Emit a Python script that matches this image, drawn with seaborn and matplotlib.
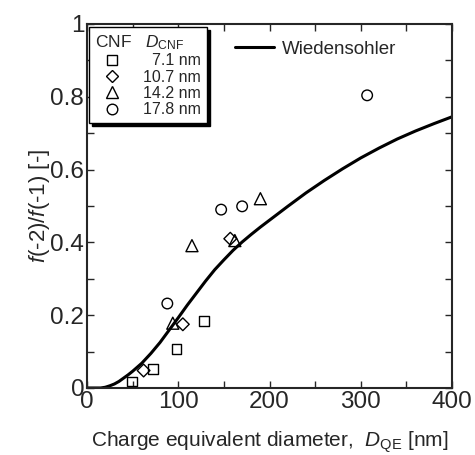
import numpy as np
import pandas as pd
import matplotlib
matplotlib.use("Agg")
import matplotlib.pyplot as plt
import seaborn as sns
from matplotlib.lines import Line2D
from matplotlib.ticker import MultipleLocator

# measured points, one list pair per CNF size
sq_x = [49, 72, 98, 128]
sq_y = [0.018, 0.052, 0.108, 0.183]
di_x = [62, 105, 157]
di_y = [0.048, 0.175, 0.41]
tr_x = [94, 115, 162, 190]
tr_y = [0.178, 0.391, 0.405, 0.52]
ci_x = [88, 147, 170, 307]
ci_y = [0.232, 0.49, 0.499, 0.804]

# Wiedensohler curve
wd_x = [0, 10, 15, 20, 25, 30, 35, 40, 45, 50, 60, 70, 80, 90, 100, 110, 120,
        130, 140, 150, 160, 170, 180, 190, 200, 220, 240, 260, 280, 300, 320,
        340, 360, 380, 400]
wd_y = [0.0, 0.0, 0.0, 0.002, 0.006, 0.011, 0.018, 0.027, 0.036, 0.046, 0.068,
        0.095, 0.125, 0.159, 0.193, 0.228, 0.261, 0.294, 0.325, 0.352, 0.378,
        0.401, 0.422, 0.442, 0.461, 0.499, 0.536, 0.570, 0.602, 0.632, 0.659,
        0.684, 0.706, 0.726, 0.745]

labels = ["  7.1 nm", "10.7 nm", "14.2 nm", "17.8 nm"]

sns.set_style("ticks")
plt.rcParams["font.family"] = ["Liberation Sans", "DejaVu Sans"]
plt.rcParams["mathtext.fontset"] = "custom"
plt.rcParams["mathtext.rm"] = "Liberation Sans"
plt.rcParams["mathtext.it"] = "Liberation Sans:italic"

fig = plt.figure(figsize=(4.75, 4.55), dpi=100)
ax = fig.add_axes([0.1832, 0.1473, 0.7684, 0.8000])

sns.lineplot(x=wd_x, y=wd_y, ax=ax, color="black", linewidth=2.2)

groups = [(sq_x, sq_y, "s", 50), (di_x, di_y, "D", 42),
          (tr_x, tr_y, "^", 75), (ci_x, ci_y, "o", 58)]
handles = []
for (gx, gy, m, s), lab in zip(groups, labels):
    sns.scatterplot(x=gx, y=gy, ax=ax, marker=m, s=s, facecolor="none",
                    edgecolor="black", linewidth=1.0, zorder=3)
    handles.append(Line2D([], [], linestyle="none", marker=m,
                          markersize=np.sqrt(s), markerfacecolor="none",
                          markeredgecolor="black", markeredgewidth=1.0))

ax.set_xlim(0, 400)
ax.set_ylim(0, 1)
ax.xaxis.set_major_locator(MultipleLocator(100))
ax.xaxis.set_minor_locator(MultipleLocator(50))
ax.yaxis.set_major_locator(MultipleLocator(0.2))
ax.yaxis.set_minor_locator(MultipleLocator(0.1))
ax.set_yticks([0, 0.2, 0.4, 0.6, 0.8, 1.0], ["0", "0.2", "0.4", "0.6", "0.8", "1"])
ax.tick_params(which="both", direction="in", top=True, right=True,
               width=1.0, labelsize=17.5, pad=2)
ax.tick_params(which="major", length=5)
ax.tick_params(which="minor", length=5)
for sp in ax.spines.values():
    sp.set_linewidth(1.5)

ax.set_xlabel("Charge equivalent diameter,  $D_{\\mathrm{QE}}$ [nm]", fontsize=15, labelpad=12)
ax.set_ylabel("$f$(-2)/$f$(-1) [-]", fontsize=16)
ax.yaxis.set_label_coords(-0.095, 0.5)

leg = ax.legend(handles, labels, title="CNF   $D_{\\mathrm{CNF}}$",
                loc="upper left", bbox_to_anchor=(0.005, 0.992), borderaxespad=0,
                fontsize=11.5, title_fontsize=12.5, alignment="left",
                frameon=True, fancybox=False, edgecolor="black",
                shadow={"color": "black", "alpha": 1.0}, framealpha=1,
                handlelength=2.1, handletextpad=0.9, labelspacing=0.08,
                borderpad=0.4)
leg.get_frame().set_linewidth(1.0)
ax.add_artist(leg)

wl = Line2D([], [], color="black", linewidth=2.2)
ax.legend([wl], ["Wiedensohler"], loc="upper left", bbox_to_anchor=(0.385, 0.975),
          borderaxespad=0, frameon=False, fontsize=13.5, handlelength=2.1,
          handletextpad=0.4)

fig.savefig("out.png", dpi=100)
